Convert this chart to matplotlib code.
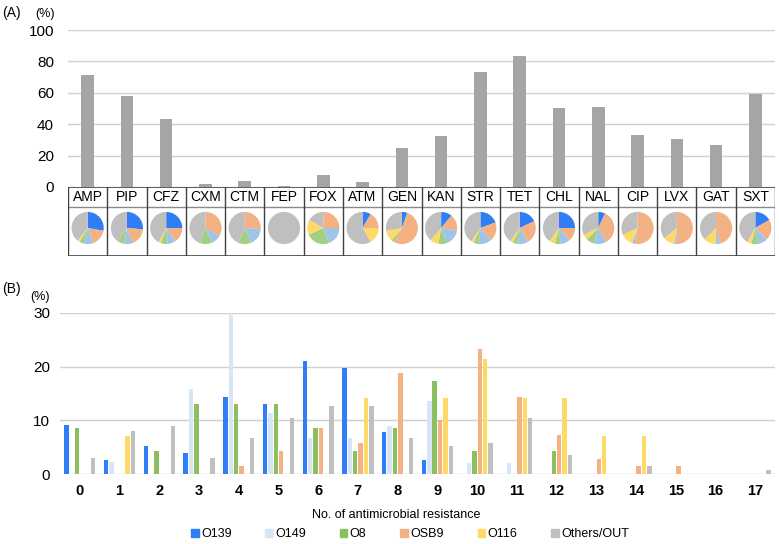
import numpy as np
import matplotlib
matplotlib.use('Agg')
import matplotlib.pyplot as plt
from matplotlib.patches import Patch

plt.rcParams['font.family'] = ['Liberation Sans', 'DejaVu Sans']

# panel A: resistance rate per drug
drugs = ['AMP', 'PIP', 'CFZ', 'CXM', 'CTM', 'FEP', 'FOX', 'ATM', 'GEN',
         'KAN', 'STR', 'TET', 'CHL', 'NAL', 'CIP', 'LVX', 'GAT', 'SXT']
resist = [71.3, 58.0, 43.1, 2.2, 3.8, 0.5, 7.6, 3.0, 25.0,
          32.7, 73.4, 83.6, 50.3, 51.0, 33.1, 30.6, 27.0, 59.2]

# serogroup share of resistant isolates (pie order: O139, OSB9, O149, O8, O116, Others)
pie_o139 = [100, 95, 90, 0, 0, 0, 0, 30, 20, 40, 70, 65, 90, 25, 0, 0, 0, 60]
pie_osb9 = [60, 65, 55, 120, 95, 0, 90, 60, 190, 60, 70, 85, 50, 125, 190, 180, 165, 75]
pie_o149 = [35, 30, 30, 35, 60, 0, 70, 0, 0, 60, 45, 35, 35, 45, 10, 10, 15, 35]
pie_o8 = [15, 25, 25, 45, 50, 0, 85, 0, 10, 30, 20, 20, 20, 30, 0, 0, 0, 25]
pie_o116 = [8, 0, 8, 0, 0, 0, 55, 60, 40, 30, 10, 10, 20, 20, 45, 40, 45, 15]
pie_other = [142, 145, 152, 160, 155, 360, 60, 210, 100, 140, 145, 145, 145, 115, 115, 130, 135, 150]

# panel B: distribution of number of resistances
n_resist = list(range(18))
series = ['O139', 'O149', 'O8', 'OSB9', 'O116', 'Others/OUT']
o139 = [9.1, 2.6, 5.2, 3.9, 14.4, 13.1, 21.0, 19.8, 7.8, 2.6, 0, 0, 0, 0, 0, 0, 0, 0]
o149 = [0, 2.2, 0, 15.9, 29.6, 11.3, 6.7, 6.7, 9.0, 13.6, 2.1, 2.1, 0, 0, 0, 0, 0, 0]
o8 = [8.6, 0, 4.3, 13.1, 13.1, 13.1, 8.6, 4.3, 8.6, 17.4, 4.2, 0, 4.2, 0, 0, 0, 0, 0]
osb9 = [0, 0, 0, 0, 1.4, 4.2, 8.6, 5.7, 18.8, 10.1, 23.2, 14.4, 7.2, 2.8, 1.4, 1.4, 0, 0]
o116 = [0, 7.1, 0, 0, 0, 0, 0, 14.2, 0, 14.2, 21.5, 14.2, 14.2, 7.1, 7.1, 0, 0, 0]
others = [2.9, 8.1, 9.0, 2.9, 6.7, 10.5, 12.7, 12.7, 6.7, 5.2, 5.8, 10.5, 3.6, 0, 1.4, 0, 0, 0.7]

bar_colors = ['#2f7ef5', '#d6e6f7', '#8cbf60', '#f4b183', '#ffd966', '#bfbfbf']
pie_colors = ['#2f7ef5', '#f4b183', '#9fc4e9', '#a3cf84', '#ffd966', '#bfbfbf']

W, H = 779, 544
fig = plt.figure(figsize=(W / 100, H / 100), dpi=100)


def box(x0, y0, x1, y1):
    return [x0 / W, 1 - y1 / H, (x1 - x0) / W, (y1 - y0) / H]


# ---- panel A bars
ax_a = fig.add_axes(box(68, 30, 775, 187))
x = np.arange(len(drugs))
ax_a.bar(x, resist, width=0.32, color='#a5a5a5', zorder=2)
ax_a.set_xlim(-0.5, len(drugs) - 0.5)
ax_a.set_ylim(0, 100)
ax_a.set_yticks(range(0, 101, 20))
ax_a.yaxis.grid(True, color='#d0d0d0', lw=1)
ax_a.set_xticks([])
for s in ax_a.spines.values():
    s.set_visible(False)
ax_a.tick_params(axis='y', length=0, pad=10, labelsize=11)

fig.text(2 / W, 1 - 13 / H, '(A)', fontsize=10, va='center')
fig.text(35 / W, 1 - 14 / H, '(%)', fontsize=9, va='center')

# ---- panel A table with labels and pies
ax_t = fig.add_axes(box(68, 187, 775, 256))
ax_t.set_xlim(-0.5, len(drugs) - 0.5)
ax_t.set_ylim(0, 1)
ax_t.axis('off')
mid = 1 - 20 / 69
ax_t.axhline(1, color='#404040', lw=1.2)
ax_t.axhline(mid, color='#8a8a8a', lw=1)
ax_t.axhline(0, color='#404040', lw=1.2)
for i in range(len(drugs) + 1):
    ax_t.axvline(i - 0.5, color='#404040', lw=1)
pies = np.array([pie_o139, pie_osb9, pie_o149, pie_o8, pie_o116, pie_other], float)
pc = 28 / 69
ph = 0.48
for i, d in enumerate(drugs):
    ax_t.text(i, (1 + mid) / 2, d, ha='center', va='center', fontsize=10)
    pa = ax_t.inset_axes([i - 0.45, pc - ph / 2, 0.9, ph], transform=ax_t.transData)
    vals = pies[:, i]
    keep = vals > 0
    pa.pie(vals[keep], colors=[c for c, k in zip(pie_colors, keep) if k],
           startangle=90, counterclock=False, wedgeprops={'linewidth': 0})
    pa.set_xlim(-1.03, 1.03)
    pa.set_ylim(-1.03, 1.03)

# ---- panel B grouped bars
narrow = ['Liberation Sans Narrow', 'Liberation Sans', 'DejaVu Sans']
ax_b = fig.add_axes(box(60, 313, 775, 474))
xb = np.arange(len(n_resist))
step = 0.135
for j, (name, vals) in enumerate(zip(series, [o139, o149, o8, osb9, o116, others])):
    ax_b.bar(xb + (j - 2.5) * step, vals, width=0.11, color=bar_colors[j],
             label=name, zorder=2)
ax_b.set_xlim(-0.5, len(n_resist) - 0.5)
ax_b.set_ylim(0, 30)
ax_b.set_yticks([0, 10, 20, 30])
ax_b.yaxis.grid(True, color='#d0d0d0', lw=1)
for s in ax_b.spines.values():
    s.set_visible(False)
ax_b.set_xticks(xb)
ax_b.set_xticklabels([str(n) for n in n_resist], fontweight='bold',
                     family=narrow, fontsize=10.5)
ax_b.tick_params(axis='y', length=0, pad=7, labelsize=11)
ax_b.tick_params(axis='x', length=0, pad=7)
ax_b.set_xlabel('No. of antimicrobial resistance', family=narrow, fontsize=9,
                labelpad=8, x=0.47)

fig.text(2 / W, 1 - 289 / H, '(B)', fontsize=10, va='center')
fig.text(30 / W, 1 - 297 / H, '(%)', fontsize=9, va='center')

handles = [Patch(color=c, label=n) for c, n in zip(bar_colors, series)]
fig.legend(handles=handles, loc='center', bbox_to_anchor=(410 / W, 1 - 534 / H),
           ncol=6, frameon=False, prop={'family': narrow, 'size': 9},
           handlelength=0.6, handleheight=0.6, handletextpad=0.2, columnspacing=2.7)

fig.savefig('out.png', dpi=100)
